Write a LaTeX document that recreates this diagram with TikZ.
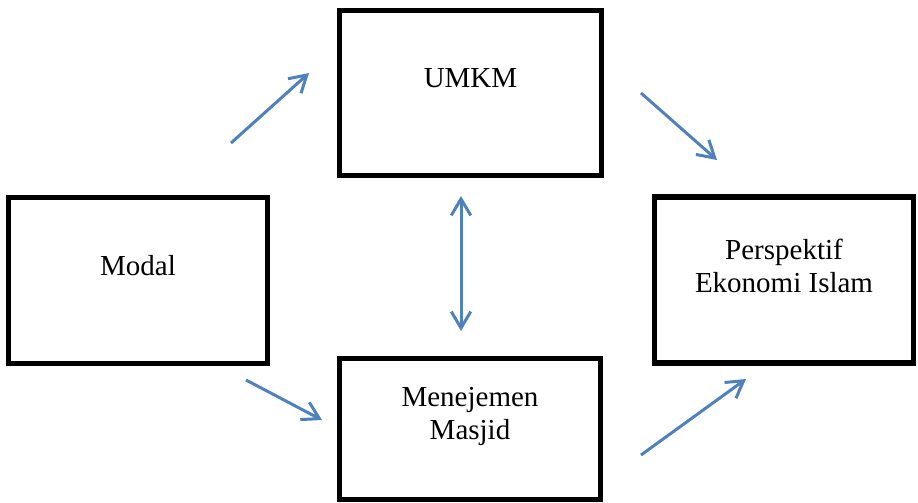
\documentclass[tikz,border=0pt]{standalone}
\usepackage{fontspec}
\setmainfont{Liberation Serif}
\usetikzlibrary{arrows.meta}
\definecolor{arrowblue}{RGB}{79,129,189}
\begin{document}
\begin{tikzpicture}[
	box/.style={draw, line width=0.105cm, inner sep=0pt},
	txt/.style={align=center, font=\fontsize{16.5}{18.8}\selectfont},
	barb/.tip={Straight Barb[length=3.3mm,width=3.9mm]},
	link/.style={arrowblue, line width=0.06cm, -barb}]
		\useasboundingbox (0,0) rectangle (18.36,-10.04);
		% boxes
		\node[box, minimum width=5.24cm, minimum height=3.3cm] (umkm) at (9.41,-1.86) {};
		\node[box, minimum width=5.18cm, minimum height=3.32cm] (modal) at (2.76,-5.61) {};
		\node[box, minimum width=5.18cm, minimum height=3.32cm] (islam) at (15.68,-5.6) {};
		\node[box, minimum width=5.22cm, minimum height=2.82cm] (masjid) at (9.4,-8.58) {};
		\node[txt] (umkmtxt) at ([yshift=0.3cm]umkm.center) {UMKM};
		\node[txt] (modaltxt) at ([yshift=0.29cm]modal.center) {Modal};
		\node[txt] (islamtxt) at ([yshift=0.28cm]islam.center) {Perspektif\\Ekonomi Islam};
		\node[txt] (masjidtxt) at ([yshift=0.25cm]masjid.center) {Menejemen\\Masjid};
		% arrow ends
		\coordinate (a1) at (4.62,-2.86);
		\coordinate (b1) at (6.18,-1.46);
		\coordinate (a2) at (12.82,-1.86);
		\coordinate (b2) at (14.34,-3.2);
		\coordinate (a3) at (9.22,-3.92);
		\coordinate (b3) at (9.22,-6.62);
		\coordinate (a4) at (4.92,-7.6);
		\coordinate (b4) at (6.44,-8.4);
		\coordinate (a5) at (12.82,-9.1);
		\coordinate (b5) at (14.92,-7.58);
		\draw[link] (a1) -- (b1);
		\draw[link] (a2) -- (b2);
		\draw[link, barb-barb] (a3) -- (b3);
		\draw[link] (a4) -- (b4);
		\draw[link] (a5) -- (b5);
	\end{tikzpicture}
\end{document}
